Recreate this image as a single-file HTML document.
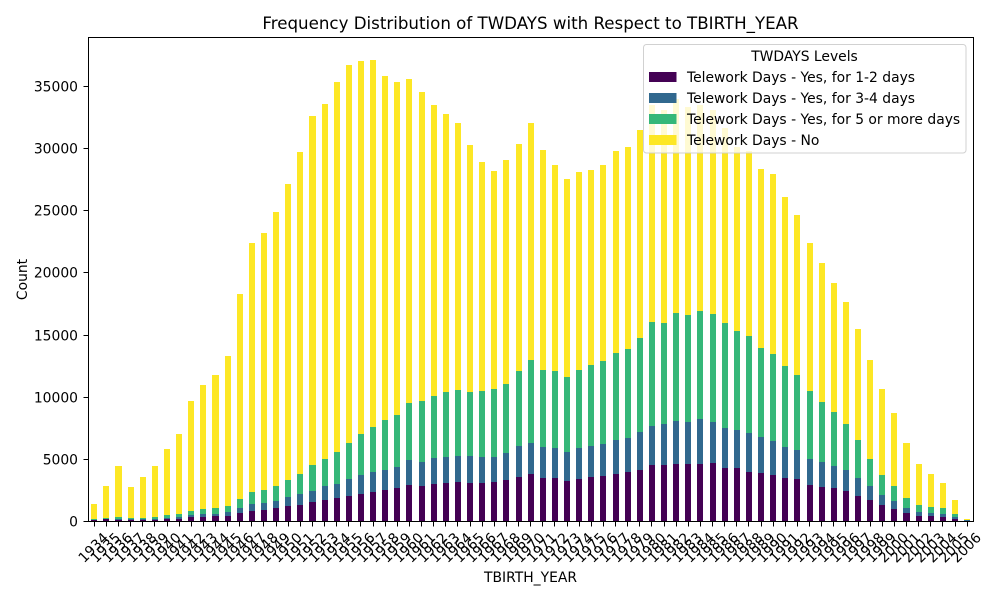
<!DOCTYPE html>
<html lang="en">
<head>
<meta charset="utf-8">
<title>Frequency Distribution of TWDAYS with Respect to TBIRTH_YEAR</title>
<style>
html,body{margin:0;padding:0;background:#fff;}
svg{display:block;}
text{font-family:"DejaVu Sans","Liberation Sans",sans-serif;fill:#000;}
</style>
</head>
<body>
<svg id="chart" xmlns="http://www.w3.org/2000/svg" width="1000" height="600" viewBox="0 0 1000 600">
  <g id="bars"></g>
  <g id="axes"></g>
  <text x="530.5" y="29" text-anchor="middle" font-size="16.67">Frequency Distribution of TWDAYS with Respect to TBIRTH_YEAR</text>
  <text x="530.5" y="582" text-anchor="middle" font-size="13.89">TBIRTH_YEAR</text>
  <text transform="translate(27 279.5) rotate(-90)" text-anchor="middle" font-size="13.89">Count</text>
  <g id="legend">
    <rect x="643.5" y="44.5" width="322.5" height="108.5" rx="3" ry="3" fill="#fff" fill-opacity="0.8" stroke="#ccc" stroke-opacity="0.9" stroke-width="1"></rect>
    <text x="804.5" y="61" text-anchor="middle" font-size="13.89">TWDAYS Levels</text>
  </g>
</svg>
<script>
const years = [];
for (let yr = 1934; yr <= 2006; yr++) { years.push(String(yr)); }

const seriesNames = ["Telework Days - Yes, for 1-2 days", "Telework Days - Yes, for 3-4 days", "Telework Days - Yes, for 5 or more days", "Telework Days - No"];
const seriesColors = ["#440154", "#31688e", "#35b779", "#fde725"];

const days12 = [
  80,160,130,80,110,130,190,190,350,350,
  430,430,670,830,910,1070,1230,1310,1560,1720,
  1880,2040,2200,2360,2520,2680,2920,2840,3000,3090,
  3170,3090,3090,3170,3330,3570,3810,3490,3490,3250,
  3410,3570,3650,3810,3970,4130,4530,4530,4610,4610,
  4610,4700,4290,4290,3970,3890,3730,3490,3410,2920,
  2760,2680,2440,2040,1720,1310,990,670,430,430,
  350,190,50
];
const days34 = [
  50,55,85,80,80,85,80,160,160,240,
  160,320,400,570,570,570,730,890,880,1120,
  1120,1370,1530,1610,1610,1690,2020,1940,2100,2090,
  2090,2170,2090,2010,2170,2490,2490,2490,2410,2330,
  2490,2490,2570,2740,2740,3060,3140,3300,3470,3390,
  3630,3300,3220,3060,3140,2900,2740,2490,2330,2100,
  2020,1770,1690,1450,1120,810,650,400,320,240,
  240,160,55
];
const days5plus = [
  60,55,135,110,80,135,240,240,320,400,
  480,480,730,960,1040,1200,1370,1610,2090,2180,
  2580,2890,3300,3620,4030,4190,4590,4910,4990,5230,
  5310,5150,5310,5470,5550,6040,6685,6200,6200,6040,
  6280,6520,6680,7000,7160,7570,8370,8130,8690,8610,
  8690,8690,8450,7970,7810,7160,7000,6520,6040,5470,
  4820,4350,3700,3060,2180,1610,1200,810,560,480,
  480,240,25
];
const daysNo = [
  1205,2570,4100,2490,3300,4100,5310,6440,8860,9980,
  10730,12070,16500,20040,20680,22060,23820,25920,28100,28570,
  29780,30430,30020,29540,27690,26800,26070,24870,23420,22380,
  21490,19880,18430,17550,18040,18270,19075,17710,16580,15930,
  15940,15700,15780,16260,16260,16740,17470,17150,17280,16740,
  16580,16420,15730,14830,14880,14410,14490,13610,12880,11910,
  11190,10380,9830,8940,7980,6920,5860,4420,3310,2670,
  2010,1130,60
];
const yTickValues = [0, 5000, 10000, 15000, 20000, 25000, 30000, 35000];

const NS = "http://www.w3.org/2000/svg";
const plotLeft = 88.2, plotRight = 973.2, plotTop = 38.3, plotBottom = 521.3;
const yMax = 38900;
const allSeries = [days12, days34, days5plus, daysNo];

function xCenter(i) {
  return plotLeft + (i + 0.5) * (plotRight - plotLeft) / years.length;
}
function yPos(v) {
  return plotBottom - v * (plotBottom - plotTop) / yMax;
}
function svgEl(tag) {
  return document.createElementNS(NS, tag);
}

const barsGroup = document.getElementById("bars");
const halfBar = 0.25 * (plotRight - plotLeft) / years.length;
years.forEach(function (year, i) {
  let cumulative = 0;
  allSeries.forEach(function (series, s) {
    const y0 = Math.round(yPos(cumulative));
    cumulative += series[i];
    const y1 = Math.round(yPos(cumulative));
    const x0 = Math.round(xCenter(i) - halfBar);
    const x1 = Math.round(xCenter(i) + halfBar);
    const r = svgEl("rect");
    r.setAttribute("x", x0);
    r.setAttribute("y", y1);
    r.setAttribute("width", x1 - x0);
    r.setAttribute("height", Math.max(y0 - y1, 0));
    r.setAttribute("fill", seriesColors[s]);
    r.setAttribute("shape-rendering", "crispEdges");
    
    
    barsGroup.appendChild(r);
  });
});

const axesGroup = document.getElementById("axes");
function addLine(x1, y1, x2, y2, name) {
  const l = svgEl("line");
  l.setAttribute("x1", x1);
  l.setAttribute("y1", y1);
  l.setAttribute("x2", x2);
  l.setAttribute("y2", y2);
  l.setAttribute("stroke", "#000");
  l.setAttribute("stroke-width", "1");
  l.setAttribute("stroke-linecap", "square");
  l.setAttribute("shape-rendering", "crispEdges");
  
  
  axesGroup.appendChild(l);
}
addLine(88.5, 37.5, 88.5, 521.5, "left-spine");
addLine(973.5, 37.5, 973.5, 521.5, "right-spine");
addLine(88.5, 37.5, 973.5, 37.5, "top-spine");
addLine(88.5, 521.5, 973.5, 521.5, "bottom-spine");

yTickValues.forEach(function (v) {
  const y = Math.floor(yPos(v));
  addLine(84, y + 0.5, 88, y + 0.5, "y-tick");
  const t = svgEl("text");
  t.setAttribute("x", 78);
  t.setAttribute("y", y + 5.4);
  t.setAttribute("text-anchor", "end");
  t.setAttribute("font-size", "13.89");
  
  
  t.textContent = String(v);
  axesGroup.appendChild(t);
});

years.forEach(function (year, i) {
  const x = xCenter(i);
  const tickX = Math.floor(x) + 0.5;
  addLine(tickX, 522, tickX, 526, "x-tick");
  const t = svgEl("text");
  t.setAttribute("transform", "translate(" + (x - 1.2) + " 547.5) rotate(-45)");
  t.setAttribute("x", 0);
  t.setAttribute("y", 5);
  t.setAttribute("text-anchor", "middle");
  t.setAttribute("font-size", "13.89");
  
  
  t.textContent = year;
  axesGroup.appendChild(t);
});

const legendGroup = document.getElementById("legend");
seriesNames.forEach(function (name, s) {
  const top = 72 + s * 21;
  const sw = svgEl("rect");
  sw.setAttribute("x", 649);
  sw.setAttribute("y", top);
  sw.setAttribute("width", 27.5);
  sw.setAttribute("height", 10);
  sw.setAttribute("fill", seriesColors[s]);
  
  
  legendGroup.appendChild(sw);
  const t = svgEl("text");
  t.setAttribute("x", 687);
  t.setAttribute("y", top + 10);
  t.setAttribute("font-size", "13.89");
  
  
  t.textContent = name;
  legendGroup.appendChild(t);
});
</script>
</body>
</html>
